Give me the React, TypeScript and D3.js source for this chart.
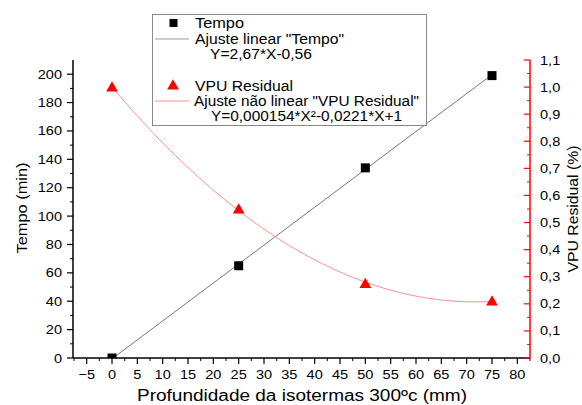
import React from "react";
import * as d3 from "d3";

const depth = [0, 25, 50, 75];
const tempo = [0, 65, 134, 199];
const vpu = [1.0, 0.55, 0.275, 0.21];
const linFit = { a: 2.67, b: -0.56 };
const quadFit = { a: 0.000154, b: -0.0221, c: 1 };
const xTicks = [-5, 0, 5, 10, 15, 20, 25, 30, 35, 40, 45, 50, 55, 60, 65, 70, 75, 80];
const yLeftTicks = [0, 20, 40, 60, 80, 100, 120, 140, 160, 180, 200];
const yRightTicks = [0, 0.1, 0.2, 0.3, 0.4, 0.5, 0.6, 0.7, 0.8, 0.9, 1.0, 1.1];
const legendLabels = [
  "Tempo",
  'Ajuste linear "Tempo"',
  "Y=2,67*X-0,56",
  "VPU Residual",
  'Ajuste não linear "VPU Residual"',
  "Y=0,000154*X²-0,0221*X+1",
];

const W = 582, H = 405;
const L = 73, R = 530, T = 60, B = 358;
const font = "Liberation Sans, Arial, sans-serif";
const SX = 1.12;

export default function App() {
  const x = d3.scaleLinear().domain([-7.7, 82.5]).range([L, R]);
  const yL = d3.scaleLinear().domain([0, 210]).range([B, T]);
  const yR = d3.scaleLinear().domain([0, 1.1]).range([B, T]);

  const fitX = d3.range(0, 75.01, 0.5);
  const linPath = d3.line<number>().x((d) => x(d)).y((d) => yL(linFit.a * d + linFit.b))([0, 75]) || "";
  const quadPath =
    d3.line<number>().x((d) => x(d)).y((d) => yR(quadFit.a * d * d + quadFit.b * d + quadFit.c))(fitX) || "";

  const xMinor = d3.range(-7.5, 82.6, 2.5).filter((v) => Math.abs(v / 5 - Math.round(v / 5)) > 0.01);
  const yLMinor = d3.range(10, 210, 20);
  const yRMinor = d3.range(0.05, 1.1, 0.1);
  const fmt = (v: number) => v.toFixed(1).replace(".", ",");
  const tri = d3.symbol().type(d3.symbolTriangle).size(60)() || "";

  const legendPos = [
    { x: 195, y: 28, w: 49 },
    { x: 195, y: 43.5, w: 149 },
    { x: 210, y: 58.5, w: 102 },
    { x: 195, y: 90.5, w: 98 },
    { x: 194, y: 105.5, w: 225 },
    { x: 211, y: 120.5, w: 191 },
  ];

  return (
    <svg width={W} height={H} style={{ position: "absolute", left: 0, top: 0 }} fontFamily={font}>
      <defs>
        <clipPath id="plot">
          <rect x={L} y={T - 20} width={R - L} height={B - T + 20} />
        </clipPath>
      </defs>
      <rect width={W} height={H} fill="white" />
      {/* fits */}
      <path d={linPath} stroke="#777" strokeWidth={1} fill="none" />
      <path d={quadPath} stroke="#ff8a8a" strokeWidth={1} fill="none" />
      {/* points */}
      <g clipPath="url(#plot)">
        {depth.map((d, i) => (
          <rect key={"s" + i} x={x(d) - 4.5} y={yL(tempo[i]) - 4.5} width={9} height={9} fill="black" />
        ))}
      </g>
      {depth.map((d, i) => (
        <path key={"t" + i} d={tri} transform={`translate(${x(d)},${yR(vpu[i]) + 1})`} fill="#ff0000" />
      ))}
      {/* x axis */}
      <line x1={L} x2={R} y1={B} y2={B} stroke="black" strokeWidth={1.5} />
      {xTicks.map((t) => (
        <g key={"xt" + t}>
          <line x1={x(t)} x2={x(t)} y1={B} y2={B + 6} stroke="black" strokeWidth={1.2} />
          <text transform={`translate(${x(t)},${B + 21}) scale(${SX},1)`} textAnchor="middle" fontSize={13}>
            {t < 0 ? "\u2212" + Math.abs(t) : t}
          </text>
        </g>
      ))}
      {xMinor.map((t) => (
        <line key={"xm" + t} x1={x(t)} x2={x(t)} y1={B} y2={B + 3} stroke="black" strokeWidth={1} />
      ))}
      {/* left axis */}
      <line x1={L} x2={L} y1={T} y2={B} stroke="black" strokeWidth={1.5} />
      {yLeftTicks.map((t) => (
        <g key={"yl" + t}>
          <line x1={L - 6} x2={L} y1={yL(t)} y2={yL(t)} stroke="black" strokeWidth={1.2} />
          <text transform={`translate(${L - 11},${yL(t) + 4.5}) scale(${SX},1)`} textAnchor="end" fontSize={13}>
            {t}
          </text>
        </g>
      ))}
      {yLMinor.map((t) => (
        <line key={"ylm" + t} x1={L - 3} x2={L} y1={yL(t)} y2={yL(t)} stroke="black" strokeWidth={1} />
      ))}
      {/* right axis */}
      <line x1={R} x2={R} y1={T} y2={B} stroke="#ff0000" strokeWidth={1.5} />
      {yRightTicks.map((t) => (
        <g key={"yr" + t}>
          <line x1={R - 6} x2={R} y1={yR(t)} y2={yR(t)} stroke="#ff0000" strokeWidth={1.2} />
          <text transform={`translate(${R + 10},${yR(t) + 4.5}) scale(${SX},1)`} textAnchor="start" fontSize={13}>
            {fmt(t)}
          </text>
        </g>
      ))}
      {yRMinor.map((t) => (
        <line key={"yrm" + t} x1={R - 3} x2={R} y1={yR(t)} y2={yR(t)} stroke="#ff0000" strokeWidth={1} />
      ))}
      {/* axis titles */}
      <text x={137} y={401} fontSize={16} textLength={330} lengthAdjust="spacingAndGlyphs">
        Profundidade da isotermas 300ºc (mm)
      </text>
      <text
        transform={`translate(27,208) rotate(-90)`}
        x={-45.5}
        fontSize={15.5}
        textLength={91}
        lengthAdjust="spacingAndGlyphs"
      >
        Tempo (min)
      </text>
      <text
        transform={`translate(578,209) rotate(-90)`}
        x={-63.5}
        fontSize={15.5}
        textLength={127}
        lengthAdjust="spacingAndGlyphs"
      >
        VPU Residual (%)
      </text>
      {/* legend */}
      <rect x={152.5} y={14.5} width={274} height={111} fill="white" stroke="#888" strokeWidth={1} />
      <rect x={169.5} y={19} width={8} height={8} fill="black" />
      <line x1={155} x2={189} y1={39} y2={39} stroke="#999" strokeWidth={1} />
      <path d={tri} transform="translate(173,86)" fill="#ff0000" />
      <line x1={155} x2={189} y1={101} y2={101} stroke="#ff8a8a" strokeWidth={1} />
      {legendLabels.map((s, i) => (
        <text
          key={"lg" + i}
          x={legendPos[i].x}
          y={legendPos[i].y}
          fontSize={14}
          textLength={legendPos[i].w}
          lengthAdjust="spacingAndGlyphs"
        >
          {s}
        </text>
      ))}
    </svg>
  );
}
